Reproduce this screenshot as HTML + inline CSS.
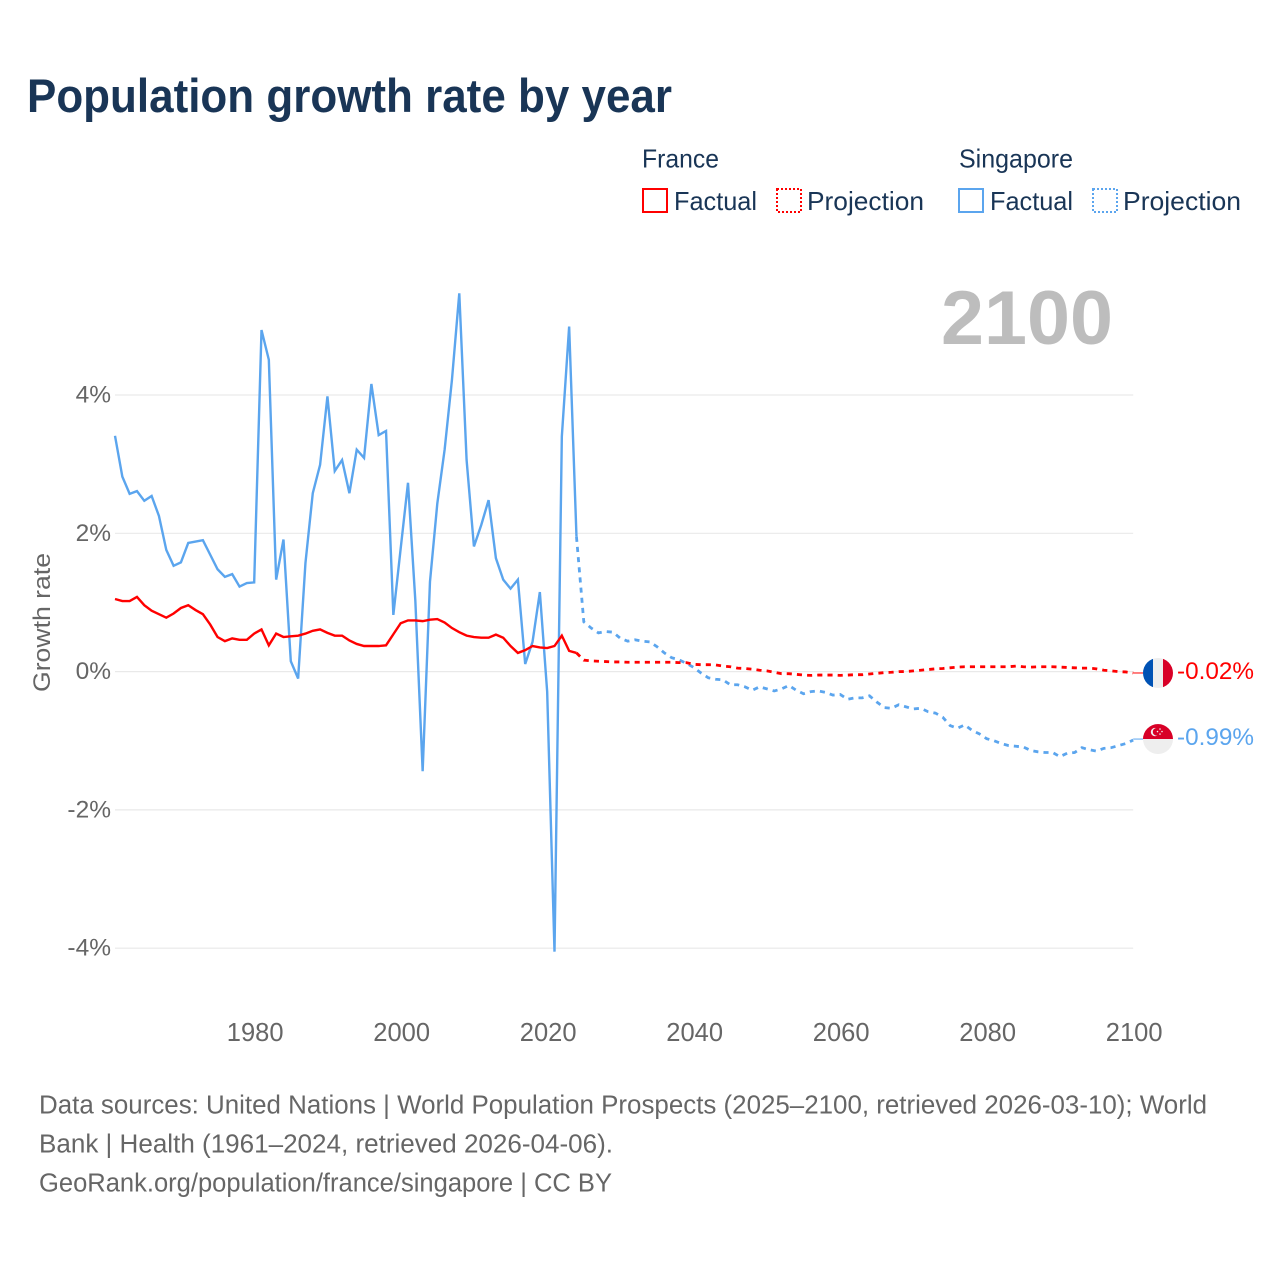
<!DOCTYPE html>
<html lang="en">
<head>
<meta charset="utf-8">
<title>Population growth rate by year</title>
<style>
html,body{margin:0;padding:0;background:#fff;width:1280px;height:1280px;overflow:hidden}
svg{display:block}
text{font-family:"Liberation Sans",sans-serif}
</style>
</head>
<body>
<svg id="chart" xmlns="http://www.w3.org/2000/svg" width="1280" height="1280" viewBox="0 0 1280 1280">
  <defs>
    <clipPath id="flag-clip-fr"><circle id="clip-fr" cx="1158" cy="672" r="15"/></clipPath>
    <clipPath id="flag-clip-sg"><circle id="clip-sg" cx="1158" cy="739" r="15"/></clipPath>
  </defs>
  <text x="27" y="112" font-size="47" font-weight="700" fill="#193556" textLength="645" lengthAdjust="spacingAndGlyphs">Population growth rate by year</text>

  <g font-size="26" fill="#193556">
    <text x="642" y="167.5" textLength="77" lengthAdjust="spacingAndGlyphs">France</text>
    <rect x="643" y="189" width="24" height="23" fill="none" stroke="#ff0000" stroke-width="2"/>
    <text x="674" y="210" textLength="83" lengthAdjust="spacingAndGlyphs">Factual</text>
    <rect x="777" y="189" width="24" height="23" fill="none" stroke="#ff0000" stroke-width="2" stroke-dasharray="2 2"/>
    <text x="807" y="210" textLength="117" lengthAdjust="spacingAndGlyphs">Projection</text>
    <text x="959" y="167.5" textLength="114" lengthAdjust="spacingAndGlyphs">Singapore</text>
    <rect x="959" y="189" width="24" height="23" fill="none" stroke="#5ba5ee" stroke-width="2"/>
    <text x="990" y="210" textLength="83" lengthAdjust="spacingAndGlyphs">Factual</text>
    <rect x="1093" y="189" width="24" height="23" fill="none" stroke="#5ba5ee" stroke-width="2" stroke-dasharray="2 2"/>
    <text x="1123" y="210" textLength="118" lengthAdjust="spacingAndGlyphs">Projection</text>
  </g>

  <text x="941" y="344" font-size="76" font-weight="700" fill="#bdbdbd" textLength="172" lengthAdjust="spacingAndGlyphs">2100</text>

  <g id="grid"></g>
  <g id="y-ticks"></g>
  <g id="x-ticks"></g>
  <text transform="translate(50,692) rotate(-90)" font-size="24" fill="#666666" textLength="139" lengthAdjust="spacingAndGlyphs">Growth rate</text>
  <g id="series"></g>
  <g id="ends"></g>

  <g font-size="25.5" fill="#666666">
    <text x="39" y="1113.5" textLength="1168" lengthAdjust="spacingAndGlyphs">Data sources: United Nations | World Population Prospects (2025–2100, retrieved 2026-03-10); World</text>
    <text x="39" y="1152.5" textLength="574" lengthAdjust="spacingAndGlyphs">Bank | Health (1961–2024, retrieved 2026-04-06).</text>
    <text x="39" y="1191.5" textLength="573" lengthAdjust="spacingAndGlyphs">GeoRank.org/population/france/singapore | CC BY</text>
  </g>
</svg>
<script>
const factualStartYear = 1961;
const projectionStartYear = 2025;
const yTickValues = [4, 2, 0, -2, -4];
const yTickLabels = ["4%", "2%", "0%", "-2%", "-4%"];
const xTickValues = [1980, 2000, 2020, 2040, 2060, 2080, 2100];
const xTickLabels = ["1980", "2000", "2020", "2040", "2060", "2080", "2100"];

const franceFactual = [
  1.05,1.02,1.02,1.08,0.96,0.88,0.83,0.78,0.84,0.92,
  0.96,0.89,0.83,0.68,0.50,0.44,0.48,0.46,0.46,0.55,
  0.61,0.38,0.55,0.50,0.51,0.52,0.55,0.59,0.61,0.56,
  0.52,0.52,0.45,0.40,0.37,0.37,0.37,0.38,0.54,0.70,
  0.74,0.74,0.73,0.75,0.76,0.71,0.63,0.57,0.52,0.50,
  0.49,0.49,0.535,0.49,0.37,0.27,0.31,0.37,0.35,0.34,
  0.37,0.52,0.30,0.27
];
const singaporeFactual = [
  3.41,2.82,2.57,2.61,2.47,2.54,2.25,1.76,1.53,1.58,
  1.86,1.88,1.90,1.69,1.48,1.37,1.41,1.23,1.28,1.29,
  4.94,4.51,1.33,1.91,0.15,-0.10,1.57,2.58,2.99,3.98,
  2.90,3.06,2.58,3.21,3.09,4.16,3.42,3.48,0.82,1.78,
  2.73,1.03,-1.44,1.30,2.43,3.21,4.22,5.47,3.06,1.81,
  2.12,2.48,1.64,1.33,1.20,1.33,0.11,0.43,1.15,-0.29,
  -4.05,3.40,4.99,1.95
];
const franceProjection = [
  .165,.155,.15,.145,.14,.14,.135,.135,.135,.135,
  .135,.135,.135,.13,.13,.105,.10,.10,.097,.08,
  .07,.05,.045,.035,.02,.01,-.01,-.03,-.03,-.04,
  -.05,-.055,-.05,-.05,-.05,-.055,-.05,-.045,-.045,-.035,
  -.025,-.015,-.01,0,.001,.01,.02,.03,.04,.045,
  .055,.065,.07,.07,.07,.07,.07,.07,.07,.08,
  .07,.065,.07,.07,.07,.065,.06,.055,.05,.05,
  .04,.02,.01,0,-.005,-.02
];
const singaporeProjection = [
  .72,.63,.56,.58,.57,.48,.44,.46,.44,.43,
  .36,.27,.20,.17,.12,.06,-.02,-.09,-.11,-.12,
  -.19,-.19,-.22,-.27,-.22,-.25,-.28,-.25,-.20,-.27,
  -.32,-.29,-.28,-.30,-.34,-.33,-.40,-.38,-.38,-.35,
  -.44,-.52,-.53,-.48,-.51,-.54,-.53,-.58,-.60,-.66,
  -.78,-.82,-.77,-.85,-.90,-.97,-1.00,-1.04,-1.07,-1.08,
  -1.09,-1.14,-1.16,-1.17,-1.17,-1.23,-1.18,-1.17,-1.10,-1.13,
  -1.15,-1.11,-1.10,-1.07,-1.04,-.99
];
const endLabelFrance = "-0.02%";
const endLabelSingapore = "-0.99%";

const NS = "http://www.w3.org/2000/svg";
function xScale(year) { return 115 + (year - 1961) * 7.325; }
function yScale(v) { return 671.6 - v * 69.15; }
function make(tag, parent, attrs) {
  const el = document.createElementNS(NS, tag);
  for (const k in attrs) el.setAttribute(k, attrs[k]);
  parent.appendChild(el);
  return el;
}
function linePath(startYear, values) {
  return values.map(function (v, i) {
    return (i ? "L" : "M") + xScale(startYear + i).toFixed(2) + " " + yScale(v).toFixed(2);
  }).join("");
}

const gridG = document.getElementById("grid");
const yG = document.getElementById("y-ticks");
const xG = document.getElementById("x-ticks");
yTickValues.forEach(function (v, i) {
  const gl = make("line", gridG, {x1: xScale(1961), x2: xScale(2100), y1: yScale(v), y2: yScale(v), stroke: "#e9e9e9", "stroke-width": 1.2});
  
  
  const t = make("text", yG, {x: 111, y: yScale(v) + 7.5, "text-anchor": "end", "font-size": 24.5, fill: "#666666"});
  t.textContent = yTickLabels[i];
  
  
});
xTickValues.forEach(function (v, i) {
  const t = make("text", xG, {x: xScale(v) + 1, y: 1041, "text-anchor": "middle", "font-size": 25.5, fill: "#666666"});
  t.textContent = xTickLabels[i];
  
  
});

const seriesG = document.getElementById("series");
const red = "#ff0000";
const blue = "#5ba5ee";
const sgProj = make("path", seriesG, {d: linePath(2024, [singaporeFactual[singaporeFactual.length - 1]].concat(singaporeProjection)), fill: "none", stroke: blue, "stroke-width": 2.8, "stroke-dasharray": "5.1 5.1"});


const sgFact = make("path", seriesG, {d: linePath(factualStartYear, singaporeFactual), fill: "none", stroke: blue, "stroke-width": 2.4, "stroke-linejoin": "miter"});


const frProj = make("path", seriesG, {d: linePath(2024, [franceFactual[franceFactual.length - 1]].concat(franceProjection)), fill: "none", stroke: red, "stroke-width": 2.8, "stroke-dasharray": "5.1 5.1"});


const frFact = make("path", seriesG, {d: linePath(factualStartYear, franceFactual), fill: "none", stroke: red, "stroke-width": 2.4});



const endsG = document.getElementById("ends");
const frEndV = franceProjection[franceProjection.length - 1];
const sgEndV = singaporeProjection[singaporeProjection.length - 1];
const frY = yScale(frEndV);
const sgY = yScale(sgEndV) - 1;
document.getElementById("clip-fr").setAttribute("cy", frY);
document.getElementById("clip-sg").setAttribute("cy", sgY);

const frLead = make("line", endsG, {x1: xScale(2100), x2: 1143, y1: frY, y2: frY, stroke: red, "stroke-width": 1});


const sgLead = make("line", endsG, {x1: xScale(2100), x2: 1143, y1: sgY, y2: sgY, stroke: blue, "stroke-width": 1});



const frFlag = make("g", endsG, {"clip-path": "url(#flag-clip-fr)"});


make("rect", frFlag, {x: 1143, y: frY - 15, width: 10, height: 30, fill: "#0052b4"});
make("rect", frFlag, {x: 1153, y: frY - 15, width: 10, height: 30, fill: "#eeeeee"});
make("rect", frFlag, {x: 1163, y: frY - 15, width: 10, height: 30, fill: "#d80027"});

const sgFlag = make("g", endsG, {"clip-path": "url(#flag-clip-sg)"});


make("rect", sgFlag, {x: 1143, y: sgY - 15, width: 30, height: 15, fill: "#d80027"});
make("rect", sgFlag, {x: 1143, y: sgY, width: 30, height: 15, fill: "#eeeeee"});
make("circle", sgFlag, {cx: 1155, cy: sgY - 7, r: 4.2, fill: "#eeeeee"});
make("circle", sgFlag, {cx: 1156.6, cy: sgY - 7.2, r: 3.8, fill: "#d80027"});
make("circle", sgFlag, {cx: 1160, cy: sgY - 10, r: 0.8, fill: "#eeeeee"});
make("circle", sgFlag, {cx: 1162, cy: sgY - 7.5, r: 0.8, fill: "#eeeeee"});
make("circle", sgFlag, {cx: 1160, cy: sgY - 5, r: 0.8, fill: "#eeeeee"});
make("circle", sgFlag, {cx: 1157.5, cy: sgY - 7.5, r: 0.8, fill: "#eeeeee"});

const frText = make("text", endsG, {x: 1177, y: frY + 6, "font-size": 24.5, fill: red, textLength: 77, lengthAdjust: "spacingAndGlyphs"});
frText.textContent = endLabelFrance;


const sgText = make("text", endsG, {x: 1177, y: sgY + 6, "font-size": 24.5, fill: blue, textLength: 77, lengthAdjust: "spacingAndGlyphs"});
sgText.textContent = endLabelSingapore;


</script>
</body>
</html>
